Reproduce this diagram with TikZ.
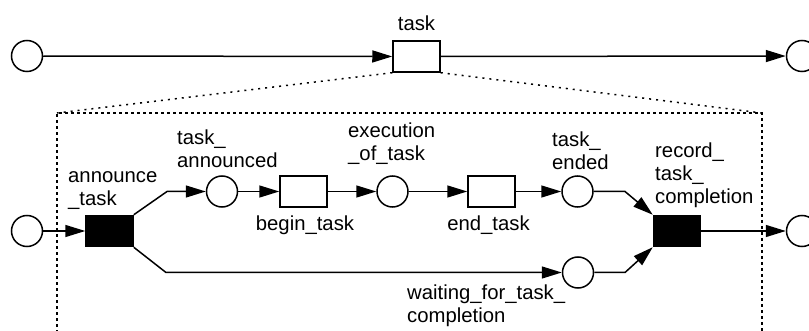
\documentclass[tikz,border=0pt]{standalone}
\usepackage{fontspec}
\setmainfont{Liberation Sans}
\usetikzlibrary{arrows.meta}
\begin{document}
\begin{tikzpicture}[x=1pt,y=-1pt,
  place/.style={circle,draw,line width=1.5pt,minimum size=31pt,inner sep=0pt,fill=white},
  trans/.style={rectangle,draw,line width=1.5pt,minimum width=47pt,minimum height=31pt,inner sep=0pt,fill=white},
  blacktrans/.style={trans,fill=black},
  lbl/.style={inner sep=0pt,align=left,font=\fontsize{20.3}{23}\selectfont},
  arc/.style={line width=1.5pt,-{Triangle[length=20pt,width=12pt]}},
  refine/.style={line width=1.5pt,dash pattern=on 2pt off 5pt},
  frame/.style={line width=1.5pt,dash pattern=on 3pt off 3pt}
]
\useasboundingbox (0,0) rectangle (809,331);
% top level
\node[place] (pL) at (27,56) {};
\node[trans] (T) at (416.5,56.5) {};
\node[place] (pR) at (802,56) {};
\node[lbl,anchor=base] (lT) at (416.5,31) {task};
\draw[arc] (pL) -- (T);
\draw[arc] (T) -- (pR);
% refinement frame
\coordinate (r1) at (57,113);
\coordinate (r2) at (762,113);
\coordinate (r1b) at (57,345);
\coordinate (r2b) at (762,345);
\draw[refine] (T.south west) -- (r1);
\draw[refine] (T.south east) -- (r2);
\draw[frame] (r1b) -- (r1) -- (r2) -- (r2b);
% subnet
\node[place] (p0) at (27,231) {};
\node[blacktrans] (A) at (109.5,231) {};
\node[place] (pAnn) at (222,191.5) {};
\node[trans] (B) at (303.5,191.5) {};
\node[place] (pExe) at (392.5,191.5) {};
\node[trans] (E) at (491.5,191.5) {};
\node[place] (pEnd) at (577.5,191.5) {};
\node[place] (pWait) at (578,272.5) {};
\node[blacktrans] (R) at (677,231) {};
\node[place] (pOut) at (802,231) {};
\coordinate (a1) at (167,191.5);
\coordinate (a2) at (166,272.5);
\coordinate (c1) at (625,191.5);
\coordinate (c2) at (625,272.5);
\draw[arc] (p0) -- (A);
\draw[arc] (A.north east) -- (a1) -- (pAnn);
\draw[arc] (pAnn) -- (B);
\draw[arc] (B) -- (pExe);
\draw[arc] (pExe) -- (E);
\draw[arc] (E) -- (pEnd);
\draw[arc] (A.south east) -- (a2) -- (pWait);
\draw[arc] (pEnd) -- (c1) -- (R.north west);
\draw[arc] (pWait) -- (c2) -- (R.south west);
\draw[arc] (R) -- (pOut);
% labels (base anchor = baseline of the last line)
\node[lbl,anchor=base west] (lA) at (68,206) {announce\\\_task};
\node[lbl,anchor=base west] (lAnn) at (177,168) {task\_\\announced};
\node[lbl,anchor=base west] (lExe) at (348,161) {execution\\\_of\_task};
\node[lbl,anchor=base] (lB) at (305,231) {begin\_task};
\node[lbl,anchor=base] (lE) at (488.5,231) {end\_task};
\node[lbl,anchor=base west] (lEnd) at (552,170) {task\_\\ended};
\node[lbl,anchor=base west] (lR) at (655,204) {record\_\\task\_\\completion};
\node[lbl,anchor=base west] (lW) at (407,322) {waiting\_for\_task\_\\completion};
\end{tikzpicture}
\end{document}
